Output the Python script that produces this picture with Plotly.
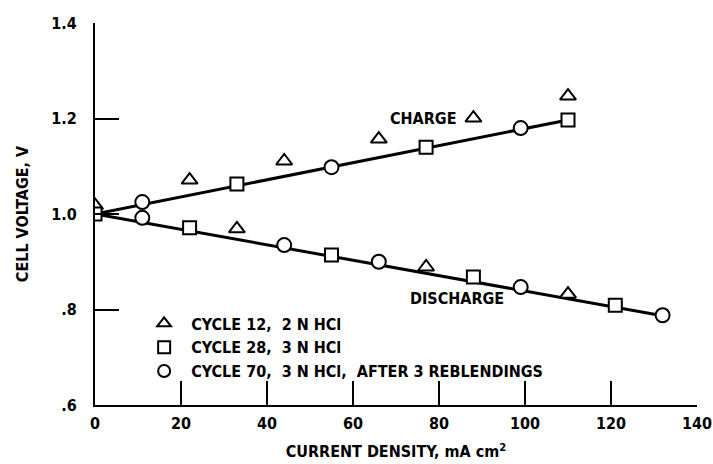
import plotly.graph_objects as go

# Data
# Cycle 12, 2 N HCl (triangles)
c12_x = [0, 22, 44, 66, 88, 110, 33, 77, 110]
c12_y = [1.018, 1.071, 1.111, 1.157, 1.201, 1.247, 0.969, 0.889, 0.832]
# Cycle 28, 3 N HCl (squares)
c28_x = [0, 33, 77, 110, 22, 55, 88, 121]
c28_y = [1.0, 1.063, 1.14, 1.197, 0.971, 0.914, 0.868, 0.809]
# Cycle 70, 3 N HCl, after 3 reblendings (circles)
c70_x = [11, 55, 99, 11, 44, 66, 99, 132]
c70_y = [1.025, 1.098, 1.18, 0.992, 0.935, 0.9, 0.847, 0.788]

# Drawn curves
charge_x = [0, 110]
charge_y = [1.0, 1.197]
discharge_x = [0, 132]
discharge_y = [1.0, 0.787]

y_tickvals = [0.6, 0.8, 1.0, 1.2, 1.4]
y_ticktext = [".6", ".8", "1.0", "1.2", "1.4"]
x_tickvals = [0, 20, 40, 60, 80, 100, 120, 140]

FONT = "DejaVu Sans Condensed, Liberation Sans Narrow, sans-serif"
FS = 16

fig = go.Figure()
fig.add_trace(go.Scatter(x=charge_x, y=charge_y, mode="lines",
                         line=dict(color="black", width=3), showlegend=False, hoverinfo="skip"))
fig.add_trace(go.Scatter(x=discharge_x, y=discharge_y, mode="lines",
                         line=dict(color="black", width=3), showlegend=False, hoverinfo="skip"))

mk = dict(color="white", size=14, line=dict(color="black", width=2))
fig.add_trace(go.Scatter(x=c12_x, y=c12_y, mode="markers", name="CYCLE 12,  2 N HCl",
                         marker=dict(symbol="triangle-up", **mk)))
fig.add_trace(go.Scatter(x=c28_x, y=c28_y, mode="markers", name="CYCLE 28,  3 N HCl",
                         marker=dict(symbol="square", **{**mk, "size": 13})))
fig.add_trace(go.Scatter(x=c70_x, y=c70_y, mode="markers",
                         name="CYCLE 70,  3 N HCl,  AFTER 3 REBLENDINGS",
                         marker=dict(symbol="circle", **mk)))

fig.add_annotation(x=76.3, y=1.201, text="CHARGE", showarrow=False,
                   font=dict(family=FONT, size=FS, color="black", weight="bold"))
fig.add_annotation(x=84.2, y=0.824, text="DISCHARGE", showarrow=False,
                   font=dict(family=FONT, size=FS, color="black", weight="bold"))

fig.update_layout(
    width=713, height=464,
    margin=dict(l=95, r=16, t=23, b=59),
    paper_bgcolor="white", plot_bgcolor="white",
    font=dict(family=FONT, size=FS, color="black", weight="bold"),
    legend=dict(x=0.070, y=0.258, xanchor="left", yanchor="top",
                bgcolor="rgba(0,0,0,0)", itemwidth=44,
                font=dict(family=FONT, size=FS, weight="bold"),
                tracegroupgap=0, itemsizing="constant"),
    xaxis=dict(range=[0, 140], tickvals=x_tickvals, showgrid=False, zeroline=False,
               showline=True, linecolor="black", linewidth=2, automargin=False,
               ticks="inside", ticklen=24, tickwidth=2, tickcolor="black",
               ticklabelstandoff=3,
               title=dict(text="CURRENT DENSITY, mA cm<sup>2</sup>", standoff=14,
                          font=dict(family=FONT, size=FS, weight="bold")),
               tickfont=dict(family=FONT, size=FS, weight="bold")),
    yaxis=dict(range=[0.6, 1.4], tickvals=y_tickvals, ticktext=y_ticktext,
               showgrid=False, zeroline=False, automargin=False,
               showline=True, linecolor="black", linewidth=2,
               ticks="inside", ticklen=24, tickwidth=2, tickcolor="black",
               ticklabelstandoff=13,
               title=dict(text="CELL VOLTAGE, V", standoff=19,
                          font=dict(family=FONT, size=FS, weight="bold")),
               tickfont=dict(family=FONT, size=FS, weight="bold")),
)

fig.write_html("out.html", config={"displayModeBar": False},
               post_script="document.body.style.margin='0px';")
